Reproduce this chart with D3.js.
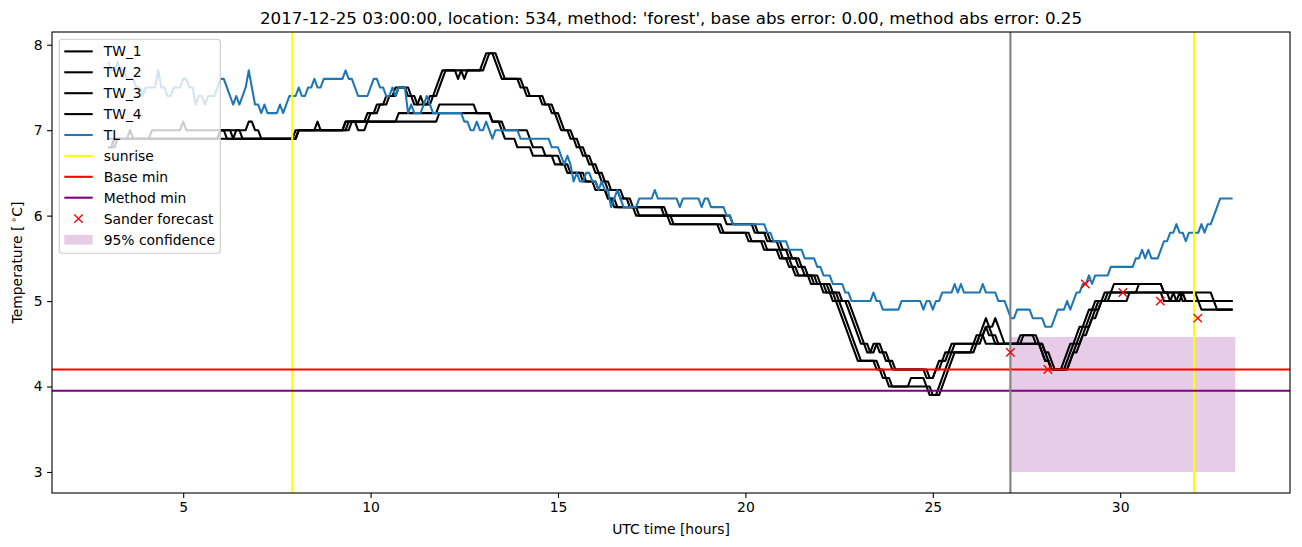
<!DOCTYPE html>
<html><head><meta charset="utf-8">
<script src="https://cdn.jsdelivr.net/npm/d3@7"></script>
<style>
body{margin:0;background:#fff}
svg{display:block}
text{font-family:"DejaVu Sans",sans-serif;fill:#000}
</style>
</head><body><svg id="chart" width="1302" height="547"></svg>
<script>
// ---------------- data ----------------
const title = "2017-12-25 03:00:00, location: 534, method: 'forest', base abs error: 0.00, method abs error: 0.25";
const xLabel = "UTC time [hours]";
const startHour = 3;            // first sample, hours
const stepMinutes = 5;          // sample spacing
// series values as run-length pairs [value, number of 5-minute samples]
const TW_1 = [[6.8,2],[6.9,5],[7.0,1],[6.9,6],[7.0,10],[7.1,1],[7.0,20],[7.1,2],[7.0,2],[6.9,11],[7.0,7],[7.1,1],[7.0,8],[7.1,7],[7.2,3],[7.3,3],[7.4,3],[7.5,4],[7.4,2],[7.3,2],[7.4,1],[7.3,2],[7.4,2],[7.5,1],[7.6,1],[7.7,5],[7.6,1],[7.7,7],[7.8,1],[7.9,3],[7.8,1],[7.7,1],[7.6,6],[7.5,2],[7.4,5],[7.3,3],[7.2,2],[7.1,1],[7.0,3],[6.9,2],[6.8,2],[6.7,2],[6.6,2],[6.5,2],[6.4,2],[6.3,4],[6.2,3],[6.1,11],[6.0,20],[5.9,9],[5.8,4],[5.7,4],[5.6,3],[5.5,3],[5.4,2],[5.3,4],[5.2,4],[5.1,3],[5.0,3],[4.9,1],[4.8,1],[4.7,1],[4.6,1],[4.5,2],[4.4,2],[4.5,3],[4.4,2],[4.3,2],[4.2,10],[4.1,3],[4.2,1],[4.3,2],[4.4,2],[4.5,8],[4.6,2],[4.7,1],[4.8,1],[4.7,2],[4.8,1],[4.7,1],[4.6,1],[4.5,5],[4.6,6],[4.5,1],[4.4,1],[4.3,2],[4.2,4],[4.3,1],[4.4,1],[4.5,2],[4.6,1],[4.7,2],[4.8,1],[4.9,2],[5.0,3],[5.1,3],[5.2,16],[5.1,16],[5.0,1],[4.9,6]];
const TW_2 = [[6.9,36],[7.0,4],[6.9,21],[7.0,16],[7.1,7],[7.2,3],[7.3,3],[7.4,3],[7.5,4],[7.4,2],[7.3,5],[7.4,2],[7.5,1],[7.6,1],[7.7,6],[7.6,1],[7.7,6],[7.8,1],[7.9,3],[7.8,1],[7.7,1],[7.6,6],[7.5,2],[7.4,5],[7.3,3],[7.2,2],[7.1,1],[7.0,3],[6.9,2],[6.8,2],[6.7,2],[6.6,2],[6.5,2],[6.4,2],[6.3,4],[6.2,3],[6.1,11],[6.0,21],[5.9,8],[5.8,4],[5.7,4],[5.6,3],[5.5,3],[5.4,2],[5.3,4],[5.2,4],[5.1,3],[5.0,3],[4.9,1],[4.8,1],[4.7,1],[4.6,1],[4.5,2],[4.4,2],[4.5,1],[4.4,2],[4.3,2],[4.2,12],[4.1,2],[4.2,2],[4.3,2],[4.4,2],[4.5,8],[4.6,2],[4.7,2],[4.6,2],[4.5,8],[4.6,4],[4.5,3],[4.4,1],[4.3,1],[4.2,5],[4.3,1],[4.4,1],[4.5,2],[4.6,1],[4.7,2],[4.8,1],[4.9,2],[5.0,3],[5.1,10],[5.2,8],[5.1,2],[5.0,3],[5.1,1],[5.0,17]];
const TW_3 = [[6.8,2],[6.9,34],[7.0,2],[6.9,3],[7.0,2],[6.9,18],[7.0,15],[7.1,17],[7.2,13],[7.3,12],[7.2,5],[7.1,3],[7.0,1],[6.9,4],[6.8,5],[6.7,7],[6.6,4],[6.5,5],[6.4,4],[6.3,4],[6.2,2],[6.1,7],[6.0,11],[5.9,17],[5.8,9],[5.7,5],[5.6,5],[5.5,3],[5.4,2],[5.3,5],[5.2,4],[5.1,3],[5.0,2],[4.9,1],[4.8,1],[4.7,1],[4.6,1],[4.5,1],[4.4,1],[4.3,6],[4.2,2],[4.1,2],[4.0,6],[4.1,5],[4.0,2],[3.9,3],[4.0,1],[4.1,1],[4.2,1],[4.3,1],[4.4,7],[4.5,2],[4.6,1],[4.7,1],[4.6,2],[4.5,16],[4.4,2],[4.3,1],[4.2,5],[4.3,1],[4.4,1],[4.5,2],[4.6,1],[4.7,2],[4.8,1],[4.9,2],[5.0,9],[5.1,22],[5.0,1],[4.9,11]];
const TW_4 = [[6.8,3],[6.9,58],[7.0,17],[7.1,2],[7.0,3],[7.1,23],[7.2,17],[7.1,4],[7.0,8],[6.9,1],[6.8,4],[6.7,5],[6.6,3],[6.5,5],[6.4,4],[6.3,3],[6.2,3],[6.1,7],[6.0,11],[5.9,15],[5.8,9],[5.7,5],[5.6,5],[5.5,3],[5.4,2],[5.3,5],[5.2,4],[5.1,3],[5.0,2],[4.9,1],[4.8,1],[4.7,1],[4.6,1],[4.5,1],[4.4,1],[4.3,6],[4.2,2],[4.1,2],[4.0,13],[3.9,3],[4.0,1],[4.1,1],[4.2,1],[4.3,1],[4.4,7],[4.5,2],[4.6,2],[4.5,18],[4.4,1],[4.3,2],[4.2,6],[4.3,1],[4.4,2],[4.5,1],[4.6,2],[4.7,1],[4.8,2],[4.9,1],[5.0,3],[5.1,17],[5.0,3],[5.1,1],[5.0,2],[5.1,1],[5.0,16]];
const TL = [[7.8,1],[7.7,2],[7.8,1],[7.7,2],[7.6,3],[7.5,2],[7.4,1],[7.5,4],[7.7,1],[7.5,2],[7.4,2],[7.5,3],[7.6,2],[7.5,2],[7.3,1],[7.4,2],[7.3,1],[7.4,3],[7.5,1],[7.6,2],[7.5,1],[7.4,1],[7.3,1],[7.4,1],[7.3,1],[7.4,1],[7.5,1],[7.7,1],[7.5,1],[7.3,2],[7.2,1],[7.3,1],[7.2,4],[7.3,1],[7.2,1],[7.3,1],[7.4,3],[7.5,1],[7.4,2],[7.5,2],[7.6,1],[7.5,2],[7.6,7],[7.7,1],[7.6,2],[7.5,1],[7.4,4],[7.5,1],[7.6,2],[7.5,2],[7.4,2],[7.5,1],[7.4,1],[7.5,3],[7.2,1],[7.3,1],[7.2,3],[7.3,1],[7.4,1],[7.3,1],[7.2,10],[7.1,2],[7.0,2],[7.1,1],[7.0,2],[7.1,1],[7.0,1],[6.9,1],[7.0,8],[6.9,10],[6.8,3],[6.7,1],[6.6,1],[6.7,1],[6.6,1],[6.4,1],[6.5,1],[6.4,2],[6.5,2],[6.4,2],[6.3,1],[6.4,1],[6.3,2],[6.1,1],[6.2,1],[6.3,1],[6.2,1],[6.1,5],[6.2,5],[6.3,1],[6.2,7],[6.1,1],[6.2,6],[6.1,1],[6.2,2],[6.1,5],[6.0,2],[5.9,11],[5.8,2],[5.7,5],[5.6,5],[5.5,4],[5.4,2],[5.3,3],[5.2,4],[5.1,2],[5.0,7],[5.1,1],[5.0,2],[4.9,6],[5.0,7],[4.9,1],[5.0,2],[4.9,1],[5.0,2],[5.1,4],[5.2,1],[5.1,1],[5.2,1],[5.1,6],[5.2,1],[5.1,4],[5.0,3],[4.9,1],[4.8,2],[4.9,5],[4.8,4],[4.7,3],[4.8,1],[4.9,3],[5.0,1],[4.9,1],[5.0,1],[5.1,2],[5.2,2],[5.3,1],[5.2,1],[5.3,5],[5.4,8],[5.5,2],[5.6,1],[5.5,1],[5.6,1],[5.5,3],[5.6,1],[5.7,2],[5.8,2],[5.9,1],[5.8,2],[5.7,1],[5.8,4],[5.9,1],[5.8,1],[5.9,2],[6.0,1],[6.1,1],[6.2,5]];
const sunriseHours = [7.91, 31.97];
const forecastIssueHour = 27.07;
const baseMin = 4.2;
const methodMin = 3.95;
const forecastHours = [27.07, 28.07, 29.07, 30.07, 31.07, 32.07];
const forecastValues = [4.4, 4.2, 5.2, 5.1, 5.0, 4.8];
const confHours = [27.07, 33.07];
const confRange = [3.0, 4.58];
const xTicks = [5, 10, 15, 20, 25, 30];
const yTicks = [3, 4, 5, 6, 7, 8];
const legendLabels = ["TW_1","TW_2","TW_3","TW_4","TL","sunrise","Base min","Method min","Sander forecast","95% confidence"];

// ---------------- helpers ----------------
function decode(rle){
  const out = [];
  rle.forEach(([v, n]) => { for (let i = 0; i < n; i++) out.push(v); });
  return out.map((v, i) => ({t: startHour + i * stepMinutes / 60, v}));
}

// ---------------- layout ----------------
const L = 52, R = 1290, T = 32, B = 493;
const x = d3.scaleLinear().domain([1.5, 34.53]).range([L, R]);
const y = d3.scaleLinear().domain([2.754, 8.149]).range([B, T]);

const svg = d3.select("#chart");
svg.append("defs").append("clipPath").attr("id","clip")
  .append("rect").attr("x",L).attr("y",T).attr("width",R-L).attr("height",B-T);
const plot = svg.append("g").attr("clip-path","url(#clip)");

// confidence band
plot.append("rect")
  .attr("x", x(confHours[0])).attr("width", x(confHours[1]) - x(confHours[0]))
  .attr("y", y(confRange[1])).attr("height", y(confRange[0]) - y(confRange[1]))
  .attr("fill", "purple").attr("fill-opacity", 0.2);

const line = d3.line().x(d => x(d.t)).y(d => y(d.v));
const lw = 2.08;
[TW_1, TW_2, TW_3, TW_4].forEach(s => {
  plot.append("path").datum(decode(s)).attr("d", line)
    .attr("fill","none").attr("stroke","#000").attr("stroke-width",lw).attr("stroke-linejoin","round");
});
plot.append("path").datum(decode(TL)).attr("d", line)
  .attr("fill","none").attr("stroke","#1f77b4").attr("stroke-width",lw).attr("stroke-linejoin","round");

// sunrise lines
sunriseHours.forEach(h => {
  plot.append("line").attr("x1",x(h)).attr("x2",x(h)).attr("y1",T).attr("y2",B)
    .attr("stroke","yellow").attr("stroke-width",lw);
});
// base / method min
plot.append("line").attr("x1",L).attr("x2",R).attr("y1",y(baseMin)).attr("y2",y(baseMin))
  .attr("stroke","red").attr("stroke-width",lw);
plot.append("line").attr("x1",L).attr("x2",R).attr("y1",y(methodMin)).attr("y2",y(methodMin))
  .attr("stroke","purple").attr("stroke-width",lw);
// forecast issue time
plot.append("line").attr("x1",x(forecastIssueHour)).attr("x2",x(forecastIssueHour)).attr("y1",T).attr("y2",B)
  .attr("stroke","gray").attr("stroke-width",lw);

// forecast markers
function xMark(g, cx, cy){
  const s = 4.2;
  g.append("path").attr("d",`M${cx-s},${cy-s}L${cx+s},${cy+s}M${cx-s},${cy+s}L${cx+s},${cy-s}`)
    .attr("stroke","red").attr("stroke-width",1.4).attr("fill","none");
}
forecastHours.forEach((h,i) => xMark(plot, x(h), y(forecastValues[i])));

// ---------------- axes ----------------
const xAxis = svg.append("g").attr("transform",`translate(0,${B})`)
  .call(d3.axisBottom(x).tickValues(xTicks).tickSize(4.9).tickPadding(4.5).tickFormat(d3.format("d")));
const yAxis = svg.append("g").attr("transform",`translate(${L},0)`)
  .call(d3.axisLeft(y).tickValues(yTicks).tickSize(4.9).tickPadding(4.5).tickFormat(d3.format("d")));
[xAxis, yAxis].forEach(a => {
  a.select(".domain").remove();
  a.selectAll(".tick line").attr("stroke","#000").attr("stroke-width",1.1);
  a.selectAll(".tick text").attr("font-size","13.9px").attr("font-family","DejaVu Sans").attr("fill","#000");
});
svg.append("rect").attr("x",L).attr("y",T).attr("width",R-L).attr("height",B-T)
  .attr("fill","none").attr("stroke","#000").attr("stroke-width",1.1);

// labels
svg.append("text").attr("x",(L+R)/2).attr("y",24).attr("text-anchor","middle")
  .attr("font-size","16.7px").text(title);
svg.append("text").attr("x",(L+R)/2).attr("y",534).attr("text-anchor","middle")
  .attr("font-size","13.9px").text(xLabel);
const yl = svg.append("text").attr("transform",`translate(22,${(T+B)/2}) rotate(-90)`)
  .attr("text-anchor","middle").attr("font-size","13.9px");
yl.append("tspan").text("Temperature [\u2009");
yl.append("tspan").attr("dy",-5).attr("font-size","9.7px").text("\u2218");
yl.append("tspan").attr("dy",5).text("C]");

// ---------------- legend ----------------
const lg = svg.append("g");
lg.append("rect").attr("x",59.3).attr("y",39.3).attr("width",161).attr("height",214).attr("rx",3)
  .attr("fill","#fff").attr("fill-opacity",0.8).attr("stroke","#cccccc").attr("stroke-width",1.1);
const styles = [
  {c:"#000"},{c:"#000"},{c:"#000"},{c:"#000"},{c:"#1f77b4"},{c:"yellow"},{c:"red"},{c:"purple"},{m:true},{p:true}
];
legendLabels.forEach((lab,i) => {
  const cy = 51.4 + i*20.9;
  const st = styles[i];
  if (st.m) xMark(lg, 78.5, cy);
  else if (st.p) lg.append("rect").attr("x",64.3).attr("y",cy-4.6).attr("width",28.4).attr("height",9.7)
      .attr("fill","purple").attr("fill-opacity",0.2);
  else lg.append("line").attr("x1",64.3).attr("x2",92.7).attr("y1",cy).attr("y2",cy)
      .attr("stroke",st.c).attr("stroke-width",lw);
  lg.append("text").attr("x",103.7).attr("y",cy+5).attr("font-size","13.9px").text(lab);
});
</script>
</body></html>
